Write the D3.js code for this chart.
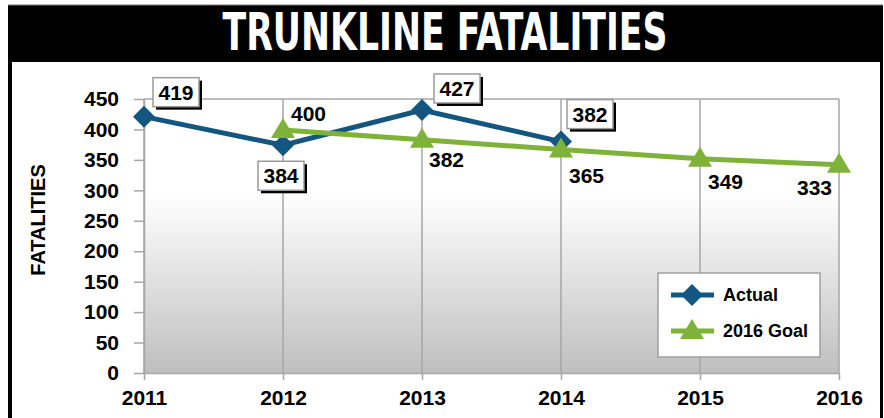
<!DOCTYPE html>
<html>
<head>
<meta charset="utf-8">
<script src="https://cdn.jsdelivr.net/npm/d3@7"></script>
<style>
  body { margin: 0; background: #fff; }
  svg { display: block; }
  text { font-family: "Liberation Sans", Arial, sans-serif; font-weight: bold; }
</style>
</head>
<body>
<svg width="884" height="418"></svg>
<script>
// data
var years = ['2011', '2012', '2013', '2014', '2015', '2016'];
var actualYears = ['2011', '2012', '2013', '2014'];
var actualValues = [421, 374, 432, 380];
var actualLabels = ['419', '384', '427', '382'];
var goalYears = ['2012', '2013', '2014', '2015', '2016'];
var goalValues = [399, 383, 367, 352, 342];
var goalLabels = ['400', '382', '365', '349', '333'];
var yTicks = [0, 50, 100, 150, 200, 250, 300, 350, 400, 450];

// label placement (dx, dy from the point)
var actualLabelOffsets = [[32, -25], [-2, 30], [35, -22], [29, -28]];
var goalLabelOffsets = [[8, -17], [7, 19], [8, 25], [8, 22], [-7, 22]];

var blue = '#13567f', green = '#7fb239', gridGrey = '#a6a6a6';

var svg = d3.select('svg');

// frame + title bar
svg.append('rect').attr('x', 8).attr('y', 5).attr('width', 875).attr('height', 57).attr('fill', '#000');
svg.append('rect').attr('x', 8).attr('y', 60).attr('width', 4).attr('height', 358).attr('fill', '#000');
svg.append('rect').attr('x', 880).attr('y', 60).attr('width', 3).attr('height', 358).attr('fill', '#000');
svg.append('line').attr('x1', 8).attr('x2', 883).attr('y1', 5).attr('y2', 5).attr('stroke', '#777').attr('stroke-width', 1);

svg.append('text')
  .attr('x', 445).attr('y', 50)
  .attr('text-anchor', 'middle')
  .attr('fill', '#fff')
  .style('font-family', '"Liberation Sans Narrow", "DejaVu Sans Condensed", "Liberation Sans", sans-serif')
  .style('font-size', '52px')
  .attr('textLength', 445)
  .attr('lengthAdjust', 'spacingAndGlyphs')
  .text('TRUNKLINE FATALITIES');

var x = d3.scalePoint().domain(years).range([144, 839]);
var y = d3.scaleLinear().domain([0, 450]).range([373, 99]);

// plot background gradient
var grad = svg.append('defs').append('linearGradient')
  .attr('id', 'bg').attr('x1', 0).attr('x2', 0).attr('y1', 0).attr('y2', 1);
grad.append('stop').attr('offset', 0).attr('stop-color', '#ffffff');
grad.append('stop').attr('offset', 0.35).attr('stop-color', '#ffffff');
grad.append('stop').attr('offset', 1).attr('stop-color', '#bfbfbf');

svg.append('rect')
  .attr('x', x('2011')).attr('y', y(450))
  .attr('width', x('2016') - x('2011')).attr('height', y(0) - y(450))
  .attr('fill', 'url(#bg)');

// grid
svg.append('g').selectAll('line')
  .data(years)
  .enter().append('line')
    .attr('x1', function(d) { return x(d); })
    .attr('x2', function(d) { return x(d); })
    .attr('y1', y(450)).attr('y2', y(0))
    .attr('stroke', gridGrey).attr('stroke-width', 1.5);
svg.append('line')
  .attr('x1', x('2011')).attr('x2', x('2016'))
  .attr('y1', y(450)).attr('y2', y(450))
  .attr('stroke', gridGrey).attr('stroke-width', 1.5);

// axes
var yAxis = svg.append('g')
  .attr('transform', 'translate(' + x('2011') + ',0)')
  .call(d3.axisLeft(y).tickValues(yTicks).tickSize(10).tickSizeOuter(0).tickPadding(15));
var xAxis = svg.append('g')
  .attr('transform', 'translate(0,' + y(0) + ')')
  .call(d3.axisBottom(x).tickSize(7).tickSizeOuter(0).tickPadding(10));
[yAxis, xAxis].forEach(function(g) {
  g.selectAll('path, line').attr('stroke', gridGrey).attr('stroke-width', 1.5);
  g.selectAll('text').attr('fill', '#000').style('font-size', '21px').style('font-weight', 'bold')
    .style('font-family', '"Liberation Sans", Arial, sans-serif');
});

svg.append('text')
  .attr('transform', 'translate(45,220) rotate(-90)')
  .attr('text-anchor', 'middle')
  .style('font-size', '20px')
  .text('FATALITIES');

// lines
var line = d3.line()
  .x(function(d) { return x(d[0]); })
  .y(function(d) { return y(d[1]); });

var actualPts = actualYears.map(function(d, i) { return [d, actualValues[i]]; });
var goalPts = goalYears.map(function(d, i) { return [d, goalValues[i]]; });

var diamond = 'M0,-11L11,0L0,11L-11,0Z';
var triangle = 'M0,-12L12,8L-12,8Z';

svg.append('path').datum(actualPts).attr('d', line)
  .attr('fill', 'none').attr('stroke', blue).attr('stroke-width', 5);
svg.append('g').selectAll('path')
  .data(actualPts)
  .enter().append('path')
    .attr('d', diamond)
    .attr('transform', function(d) { return 'translate(' + x(d[0]) + ',' + y(d[1]) + ')'; })
    .attr('fill', blue);

svg.append('path').datum(goalPts).attr('d', line)
  .attr('fill', 'none').attr('stroke', green).attr('stroke-width', 5);
svg.append('g').selectAll('path')
  .data(goalPts)
  .enter().append('path')
    .attr('d', triangle)
    .attr('transform', function(d) { return 'translate(' + x(d[0]) + ',' + y(d[1]) + ')'; })
    .attr('fill', green);

// boxed labels for actual
var boxes = svg.append('g').selectAll('g')
  .data(actualPts)
  .enter().append('g')
    .attr('transform', function(d, i) {
      return 'translate(' + (x(d[0]) + actualLabelOffsets[i][0]) + ',' + (y(d[1]) + actualLabelOffsets[i][1]) + ')';
    });
boxes.append('rect').attr('x', -20).attr('y', -11).attr('width', 46).attr('height', 29).attr('fill', '#000');
boxes.append('rect').attr('x', -23).attr('y', -14).attr('width', 46).attr('height', 29)
  .attr('fill', '#fff').attr('stroke', '#9a9a9a').attr('stroke-width', 1.5);
boxes.append('text')
  .attr('text-anchor', 'middle').attr('y', 8)
  .style('font-size', '21px')
  .text(function(d, i) { return actualLabels[i]; });

// plain labels for goal
svg.append('g').selectAll('text')
  .data(goalPts)
  .enter().append('text')
    .attr('x', function(d, i) { return x(d[0]) + goalLabelOffsets[i][0]; })
    .attr('y', function(d, i) { return y(d[1]) + goalLabelOffsets[i][1] + 8; })
    .attr('text-anchor', function(d, i) { return goalLabelOffsets[i][0] < 0 ? 'end' : 'start'; })
    .style('font-size', '21px')
    .text(function(d, i) { return goalLabels[i]; });

// legend
var legend = svg.append('g').attr('transform', 'translate(658,273)');
legend.append('rect').attr('width', 162).attr('height', 84)
  .attr('fill', '#fff').attr('stroke', '#a0a0a0').attr('stroke-width', 1.5);
var legendItems = [
  { name: 'Actual', color: blue, shape: diamond, y: 22 },
  { name: '2016 Goal', color: green, shape: triangle, y: 58 }
];
var li = legend.selectAll('.item')
  .data(legendItems)
  .enter().append('g')
    .attr('transform', function(d) { return 'translate(0,' + d.y + ')'; });
li.append('line').attr('x1', 13).attr('x2', 56)
  .attr('stroke', function(d) { return d.color; }).attr('stroke-width', 5);
li.append('path').attr('d', function(d) { return d.shape; })
  .attr('transform', 'translate(34,0)')
  .attr('fill', function(d) { return d.color; });
li.append('text').attr('x', 65).attr('y', 6)
  .style('font-size', '18px')
  .text(function(d) { return d.name; });
</script>
</body>
</html>
